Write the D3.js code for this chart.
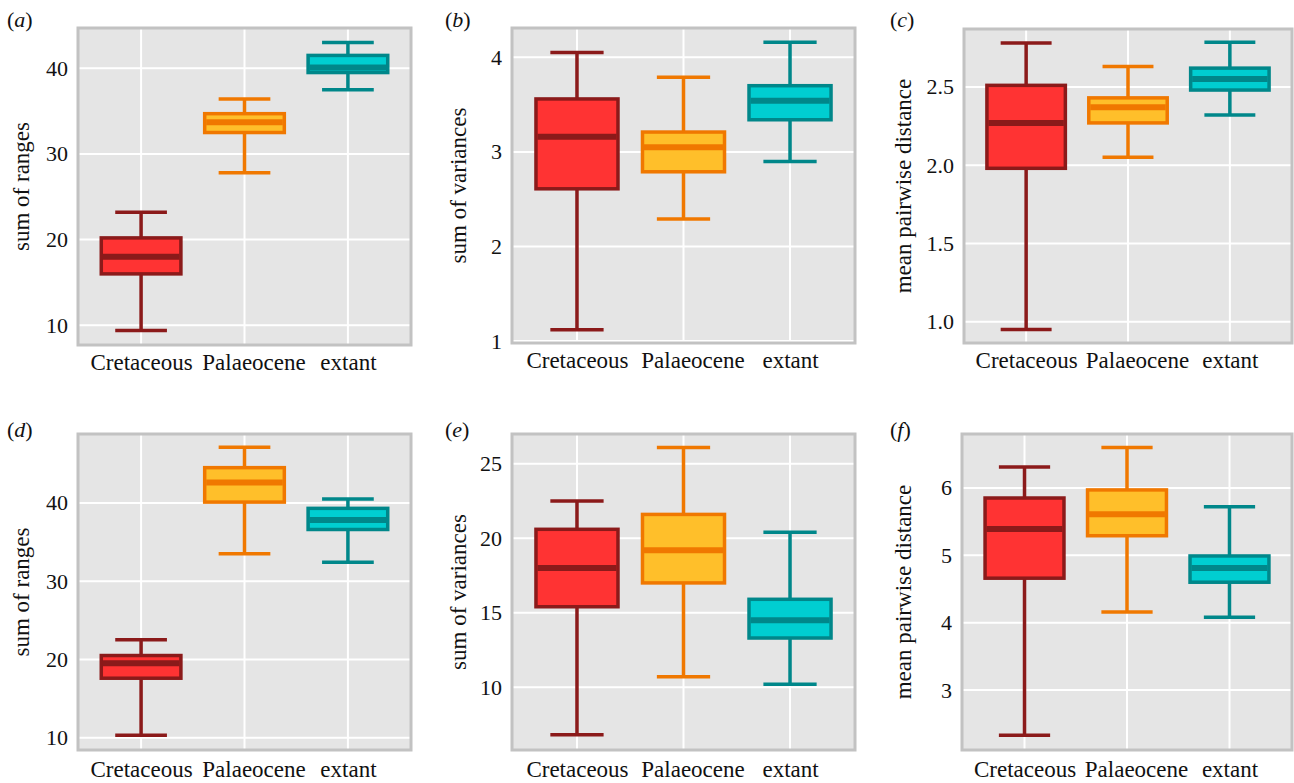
<!DOCTYPE html>
<html>
<head>
<meta charset="utf-8">
<script src="https://cdn.jsdelivr.net/npm/d3@7"></script>
<style>
  body { margin: 0; background: #fff; }
  svg text { font-family: "Liberation Serif", "DejaVu Serif", "Times New Roman", serif !important; fill: #111; }
</style>
</head>
<body>
<div id="myChart"></div>
<script>
// categories and panel texts
const categories = ["Cretaceous", "Palaeocene", "extant"];
const panelLetters = ["a", "b", "c", "d", "e", "f"];
const yTitles = ["sum of ranges", "sum of variances", "mean pairwise distance",
                 "sum of ranges", "sum of variances", "mean pairwise distance"];
const yTicks = [[10, 20, 30, 40], [1, 2, 3, 4], [1.0, 1.5, 2.0, 2.5],
                [10, 20, 30, 40], [10, 15, 20, 25], [3, 4, 5, 6]];
const yDomains = [[7.7, 44.7], [0.98, 4.31], [0.864, 2.87],
                  [8.43, 48.8], [5.78, 27.0], [2.11, 6.80]];

// box stats per category: [lower whisker, q1, median, q3, upper whisker]
const statsA = [[9.4, 16.0, 18.0, 20.2, 23.2], [27.8, 32.5, 33.7, 34.7, 36.4], [37.5, 39.5, 40.1, 41.5, 43.0]];
const statsB = [[1.12, 2.61, 3.16, 3.56, 4.05], [2.29, 2.79, 3.05, 3.21, 3.79], [2.90, 3.34, 3.54, 3.70, 4.16]];
const statsC = [[0.95, 1.98, 2.27, 2.51, 2.78], [2.05, 2.27, 2.37, 2.43, 2.63], [2.32, 2.48, 2.55, 2.62, 2.785]];
const statsD = [[10.3, 17.6, 19.5, 20.5, 22.5], [33.5, 40.1, 42.6, 44.5, 47.1], [32.4, 36.6, 37.8, 39.3, 40.5]];
const statsE = [[6.8, 15.4, 18.0, 20.6, 22.5], [10.7, 17.0, 19.2, 21.6, 26.1], [10.2, 13.3, 14.5, 15.9, 20.4]];
const statsF = [[2.33, 4.66, 5.39, 5.85, 6.31], [4.16, 5.29, 5.61, 5.97, 6.60], [4.08, 4.60, 4.81, 4.99, 5.72]];
const allStats = [statsA, statsB, statsC, statsD, statsE, statsF];

const fills = ["#ff3333", "#ffbf2a", "#00ced1"];
const strokes = ["#8b1a1a", "#f07800", "#00878a"];

// panel frames (pixels)
const layout = [
  {x0: 78,  x1: 411,  y0: 28,  y1: 345, lx: 7,   ly: 27,  tx: 21},
  {x0: 512, x1: 855,  y0: 28,  y1: 343, lx: 445, ly: 27,  tx: 458},
  {x0: 964, x1: 1292, y0: 29,  y1: 343, lx: 890, ly: 27,  tx: 903},
  {x0: 78,  x1: 411,  y0: 434, y1: 750, lx: 7,   ly: 437, tx: 21},
  {x0: 512, x1: 855,  y0: 434, y1: 750, lx: 445, ly: 437, tx: 458},
  {x0: 962, x1: 1292, y0: 434, y1: 750, lx: 890, ly: 437, tx: 903}
];

const svg = d3.select("#myChart")
  .append("svg")
    .attr("width", 1294)
    .attr("height", 783)
    .attr("font-family", "Liberation Serif, DejaVu Serif, serif");

layout.forEach((f, i) => {
  const g = svg.append("g");
  const x = d3.scalePoint().domain(categories).range([f.x0, f.x1]).padding(0.61);
  const y = d3.scaleLinear().domain(yDomains[i]).range([f.y1, f.y0]);
  const step = x.step();
  const boxW = step * 0.77, capW = step * 0.5;
  const fmt = i === 2 ? d3.format(".1f") : d3.format("d");

  // background
  g.append("rect")
    .attr("x", f.x0).attr("y", f.y0)
    .attr("width", f.x1 - f.x0).attr("height", f.y1 - f.y0)
    .attr("fill", "#e5e5e5");

  // grid
  g.selectAll("line.hgrid")
    .data(yTicks[i])
    .join("line")
      .attr("x1", f.x0).attr("x2", f.x1)
      .attr("y1", d => y(d)).attr("y2", d => y(d))
      .attr("stroke", "#fff").attr("stroke-width", 2);
  g.selectAll("line.vgrid")
    .data(categories)
    .join("line")
      .attr("x1", d => x(d)).attr("x2", d => x(d))
      .attr("y1", f.y0).attr("y2", f.y1)
      .attr("stroke", "#fff").attr("stroke-width", 2);

  // frame
  g.append("rect")
    .attr("x", f.x0).attr("y", f.y0)
    .attr("width", f.x1 - f.x0).attr("height", f.y1 - f.y0)
    .attr("fill", "none").attr("stroke", "#c2c2c2").attr("stroke-width", 3);

  const stats = allStats[i];
  categories.forEach((c, j) => {
    const [lo, q1, med, q3, hi] = stats[j];
    const cx = x(c);
    // whiskers
    g.append("line")
      .attr("x1", cx).attr("x2", cx).attr("y1", y(hi)).attr("y2", y(lo))
      .attr("stroke", strokes[j]).attr("stroke-width", 3.5);
    [lo, hi].forEach(v => {
      g.append("line")
        .attr("x1", cx - capW / 2).attr("x2", cx + capW / 2)
        .attr("y1", y(v)).attr("y2", y(v))
        .attr("stroke", strokes[j]).attr("stroke-width", 3.5);
    });
    // box
    g.append("rect")
      .attr("x", cx - boxW / 2).attr("y", y(q3))
      .attr("width", boxW).attr("height", y(q1) - y(q3))
      .attr("fill", fills[j])
      .attr("stroke", strokes[j]).attr("stroke-width", 3.5);
    // median
    g.append("line")
      .attr("x1", cx - boxW / 2 + 1.5).attr("x2", cx + boxW / 2 - 1.5)
      .attr("y1", y(med)).attr("y2", y(med))
      .attr("stroke", strokes[j]).attr("stroke-width", 6);
  });

  // axes
  const yAxis = g.append("g")
    .attr("transform", `translate(${f.x0},0)`)
    .call(d3.axisLeft(y).tickValues(yTicks[i]).tickFormat(fmt).tickSize(0).tickPadding(10))
    .attr("font-family", null).attr("font-size", null);
  yAxis.select(".domain").remove();
  yAxis.selectAll("text").attr("font-size", "22px").attr("fill", "#111");

  const xAxis = g.append("g")
    .attr("transform", `translate(0,${f.y1})`)
    .call(d3.axisBottom(x).tickSize(0).tickPadding(i < 3 ? 9 : 11))
    .attr("font-family", null).attr("font-size", null);
  xAxis.select(".domain").remove();
  xAxis.selectAll("text")
    .attr("font-size", "23px").attr("fill", "#111")
    .attr("dx", (d, k) => k === 1 ? 9 : 0); // middle label sits a bit right in the original

  // y title
  g.append("text")
    .attr("transform", `translate(${f.tx},${(f.y0 + f.y1) / 2}) rotate(-90)`)
    .attr("text-anchor", "middle")
    .attr("dy", "0.35em")
    .attr("font-size", "23px")
    .text(yTitles[i]);

  // panel letter
  const lab = g.append("text")
    .attr("x", f.lx).attr("y", f.ly)
    .attr("font-size", "22px");
  lab.append("tspan").text("(");
  lab.append("tspan").attr("font-style", "italic").text(panelLetters[i]);
  lab.append("tspan").text(")");
});
</script>
</body>
</html>
